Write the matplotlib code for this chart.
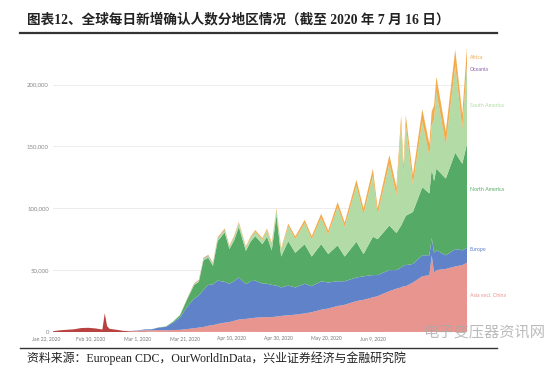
import numpy as np
import pandas as pd
import matplotlib
matplotlib.use("Agg")
import matplotlib.pyplot as plt
import matplotlib.dates as mdates
from matplotlib.lines import Line2D
from matplotlib.transforms import ScaledTranslation, blended_transform_factory
from matplotlib.ticker import FuncFormatter

# daily new confirmed cases (thousands)
dates = [
    "2020-01-22", "2020-01-25", "2020-01-28", "2020-01-31", "2020-02-03", "2020-02-06",
    "2020-02-09", "2020-02-11", "2020-02-12", "2020-02-13", "2020-02-14", "2020-02-15",
    "2020-02-18", "2020-02-21", "2020-02-24", "2020-02-27", "2020-03-01", "2020-03-04",
    "2020-03-07", "2020-03-10", "2020-03-13", "2020-03-16", "2020-03-19", "2020-03-22",
    "2020-03-24", "2020-03-26", "2020-03-28", "2020-03-30", "2020-04-01", "2020-04-04",
    "2020-04-06", "2020-04-08", "2020-04-10", "2020-04-13", "2020-04-15", "2020-04-17",
    "2020-04-20", "2020-04-22", "2020-04-24", "2020-04-26", "2020-04-28", "2020-05-01",
    "2020-05-04", "2020-05-08", "2020-05-11", "2020-05-15", "2020-05-18", "2020-05-22",
    "2020-05-25", "2020-05-30", "2020-06-02", "2020-06-06", "2020-06-08", "2020-06-13",
    "2020-06-16", "2020-06-18", "2020-06-19", "2020-06-20", "2020-06-23", "2020-06-27",
    "2020-06-30", "2020-07-01", "2020-07-02", "2020-07-03", "2020-07-07", "2020-07-11",
    "2020-07-14", "2020-07-16",
]
china = [
    0.6, 1.4, 1.8, 2.2, 3.2, 3.4, 2.9, 2.3, 2.0, 15.1, 4.8, 2.6,
    1.8, 0.9, 0.5, 0.4, 0.5, 0.12, 0.1, 0.03, 0.02, 0.02, 0.04, 0.05,
    0.08, 0.07, 0.05, 0.03, 0.04, 0.03, 0.04, 0.06, 0.05, 0.1, 0.05, 0.03,
    0.02, 0.01, 0.01, 0.01, 0.01, 0.01, 0.01, 0.01, 0.02, 0.01, 0.01, 0.01,
    0.01, 0.01, 0.01, 0.01, 0.01, 0.05, 0.04, 0.03, 0.03, 0.03, 0.02, 0.02,
    0.02, 0.01, 0.01, 0.01, 0.01, 0.01, 0.02, 0.02,
]
asia = [
    0, 0, 0, 0, 0, 0, 0, 0, 0, 0, 0, 0,
    0, 0, 0.3, 0.6, 1.0, 1.2, 1.5, 1.3, 1.6, 1.7, 2.3, 3,
    3.5, 4, 5, 5.5, 6.5, 7.5, 8, 9, 10, 10.5, 11, 11.5,
    12, 12, 12, 12.5, 13, 13.5, 14, 15, 16, 18, 19, 21,
    22, 25, 26, 28, 29, 33, 35, 36, 37, 37, 40, 45,
    46, 62, 48, 50, 51, 53, 54, 56,
]
europe = [
    0, 0, 0, 0, 0, 0, 0, 0, 0, 0, 0, 0,
    0, 0, 0.1, 0.3, 0.6, 0.9, 2.0, 2.8, 6.0, 10, 18, 24,
    26, 30, 33, 33, 35, 33, 31, 32, 34, 28, 30, 30,
    27, 27, 26, 25, 23, 24, 22, 24, 21, 23, 21, 20,
    19, 19, 19, 18, 17, 17, 15, 16, 17, 17, 15, 17,
    16, 14, 16, 16, 11, 14, 12, 12,
]
north_america = [
    0, 0, 0, 0, 0, 0, 0, 0, 0, 0, 0, 0,
    0, 0, 0, 0, 0.02, 0.05, 0.15, 0.3, 0.7, 1.8, 6, 11,
    11, 24, 22, 15, 32, 40, 28, 33, 41, 27, 32, 36,
    32, 38, 28, 57, 25, 36, 28, 32, 24, 30, 23, 29,
    20, 29, 18, 31, 29, 36, 30, 34, 36, 40, 42, 55,
    50, 56, 58, 66, 62, 78, 70, 84,
]
south_america = [
    0, 0, 0, 0, 0, 0, 0, 0, 0, 0, 0, 0,
    0, 0, 0, 0, 0, 0, 0, 0, 0.05, 0.2, 0.4, 0.8,
    1, 1.2, 1.5, 1.5, 2, 2, 1.8, 2.5, 2.5, 2.5, 3, 3.5,
    3.5, 5, 4.5, 4, 5, 12, 11, 17, 14, 21, 16, 31,
    24, 45, 32, 49, 20, 50, 30, 82, 36, 73, 22, 53,
    30, 35, 50, 62, 27, 70, 28, 64,
]
oceania = [
    0, 0, 0, 0, 0, 0, 0, 0, 0, 0, 0, 0,
    0, 0, 0, 0, 0, 0, 0, 0, 0, 0.05, 0.1, 0.2,
    0.3, 0.4, 0.4, 0.3, 0.3, 0.3, 0.2, 0.2, 0.2, 0.1, 0.1, 0.1,
    0.05, 0.05, 0.03, 0.02, 0.02, 0.02, 0.02, 0.02, 0.02, 0.02, 0.02, 0.02,
    0.02, 0.02, 0.02, 0.02, 0.03, 0.03, 0.05, 0.05, 0.05, 0.05, 0.1, 0.1,
    0.2, 0.2, 0.2, 0.2, 0.2, 0.3, 0.3, 0.4,
]
africa = [
    0, 0, 0, 0, 0, 0, 0, 0, 0, 0, 0, 0,
    0, 0, 0, 0, 0, 0, 0, 0, 0, 0.1, 0.2, 0.3,
    0.4, 0.4, 0.5, 0.6, 0.7, 0.9, 0.8, 1.0, 1.1, 1.0, 1.1, 1.3,
    1.3, 1.5, 1.5, 1.6, 1.6, 2.0, 2.2, 2.6, 2.5, 3.5, 3.0, 4.0,
    3.5, 5.0, 5.0, 6.0, 5.0, 7.0, 7.0, 7.0, 8.0, 8.0, 8.0, 10,
    10, 11, 11, 12, 11, 13, 12, 14,
]

regions = ["China", "Asia excl. China", "Europe", "North America",
           "South America", "Oceania", "Africa"]
colors = ["#b8423f", "#e8958f", "#5f82c8", "#55ab66", "#b3dba5", "#8e62ab", "#f2ac4e"]
label_y = {"Asia excl. China": 29600, "Europe": 67000, "North America": 115000,
           "South America": 183000, "Oceania": 212000, "Africa": 221600}

x = pd.to_datetime(dates)
series = [np.array(s) * 1000 for s in
          (china, asia, europe, north_america, south_america, oceania, africa)]

cjk = ["Liberation Serif", "Noto Sans CJK SC"]

fig = plt.figure(figsize=(5.5, 3.81), dpi=100)
ax = fig.add_axes([53 / 550, 49 / 381, 414 / 550, 287 / 381])

ax.stackplot(x, *series, colors=colors, linewidth=0, zorder=2)

ax.set_xlim(x[0], x[-1])
ax.set_ylim(0, 232000)
ax.set_yticks([0, 50000, 100000, 150000, 200000])
ax.yaxis.set_major_formatter(FuncFormatter(lambda v, p: f"{int(v):,}"))
ax.grid(axis="y", color="#e9e9e9", linewidth=0.6, zorder=0)
ax.set_axisbelow(True)

tick_dates = pd.to_datetime(["2020-01-22", "2020-02-10", "2020-03-01", "2020-03-21",
                             "2020-04-10", "2020-04-30", "2020-05-20", "2020-06-09"])
ax.set_xticks(tick_dates)
ax.xaxis.set_major_formatter(mdates.DateFormatter("%b %-d, %Y"))
ax.tick_params(axis="x", length=0, pad=3, labelsize=3.6, labelcolor="#777777")
ax.tick_params(axis="y", length=0, pad=3, labelsize=4.3, labelcolor="#888888")
for lab in ax.get_xticklabels():
    lab.set_fontfamily("Lato")
    lab.set_transform(lab.get_transform() + ScaledTranslation(-7 / 100, 0, fig.dpi_scale_trans))
for lab in ax.get_yticklabels():
    lab.set_fontfamily("Lato")
for sp in ax.spines.values():
    sp.set_visible(False)

# region labels at the right end
tr = blended_transform_factory(ax.transAxes, ax.transData)
for name, col in zip(regions, colors):
    if name in label_y:
        ax.text(1.007, label_y[name], name, transform=tr, fontsize=3.8, color=col,
                family="Lato", va="center", ha="left")

# title, rules and source
fig.text(27 / 550, 1 - 20 / 381,
         "图表12、全球每日新增确认人数分地区情况（截至 2020 年 7 月 16 日）",
         family=cjk, fontsize=9.8, fontweight="bold", color="#222222", va="center")
fig.add_artist(Line2D([20 / 550, 497 / 550], [1 - 33 / 381] * 2, color="#333333", lw=1.6))
fig.add_artist(Line2D([20 / 550, 497 / 550], [1 - 348 / 381] * 2, color="#333333", lw=1.0))
fig.text(27 / 550, 1 - 358 / 381,
         "资料来源：European CDC，OurWorldInData，兴业证券经济与金融研究院",
         family=cjk, fontsize=8.6, color="#222222", va="center")
# watermark
fig.text(484 / 550, 1 - 332 / 381, "电子变压器资讯网", family=["Noto Sans CJK SC"],
         fontsize=11, color="#aaaaaa", alpha=0.8, ha="center", va="center")

fig.savefig("out.png", dpi=100)
